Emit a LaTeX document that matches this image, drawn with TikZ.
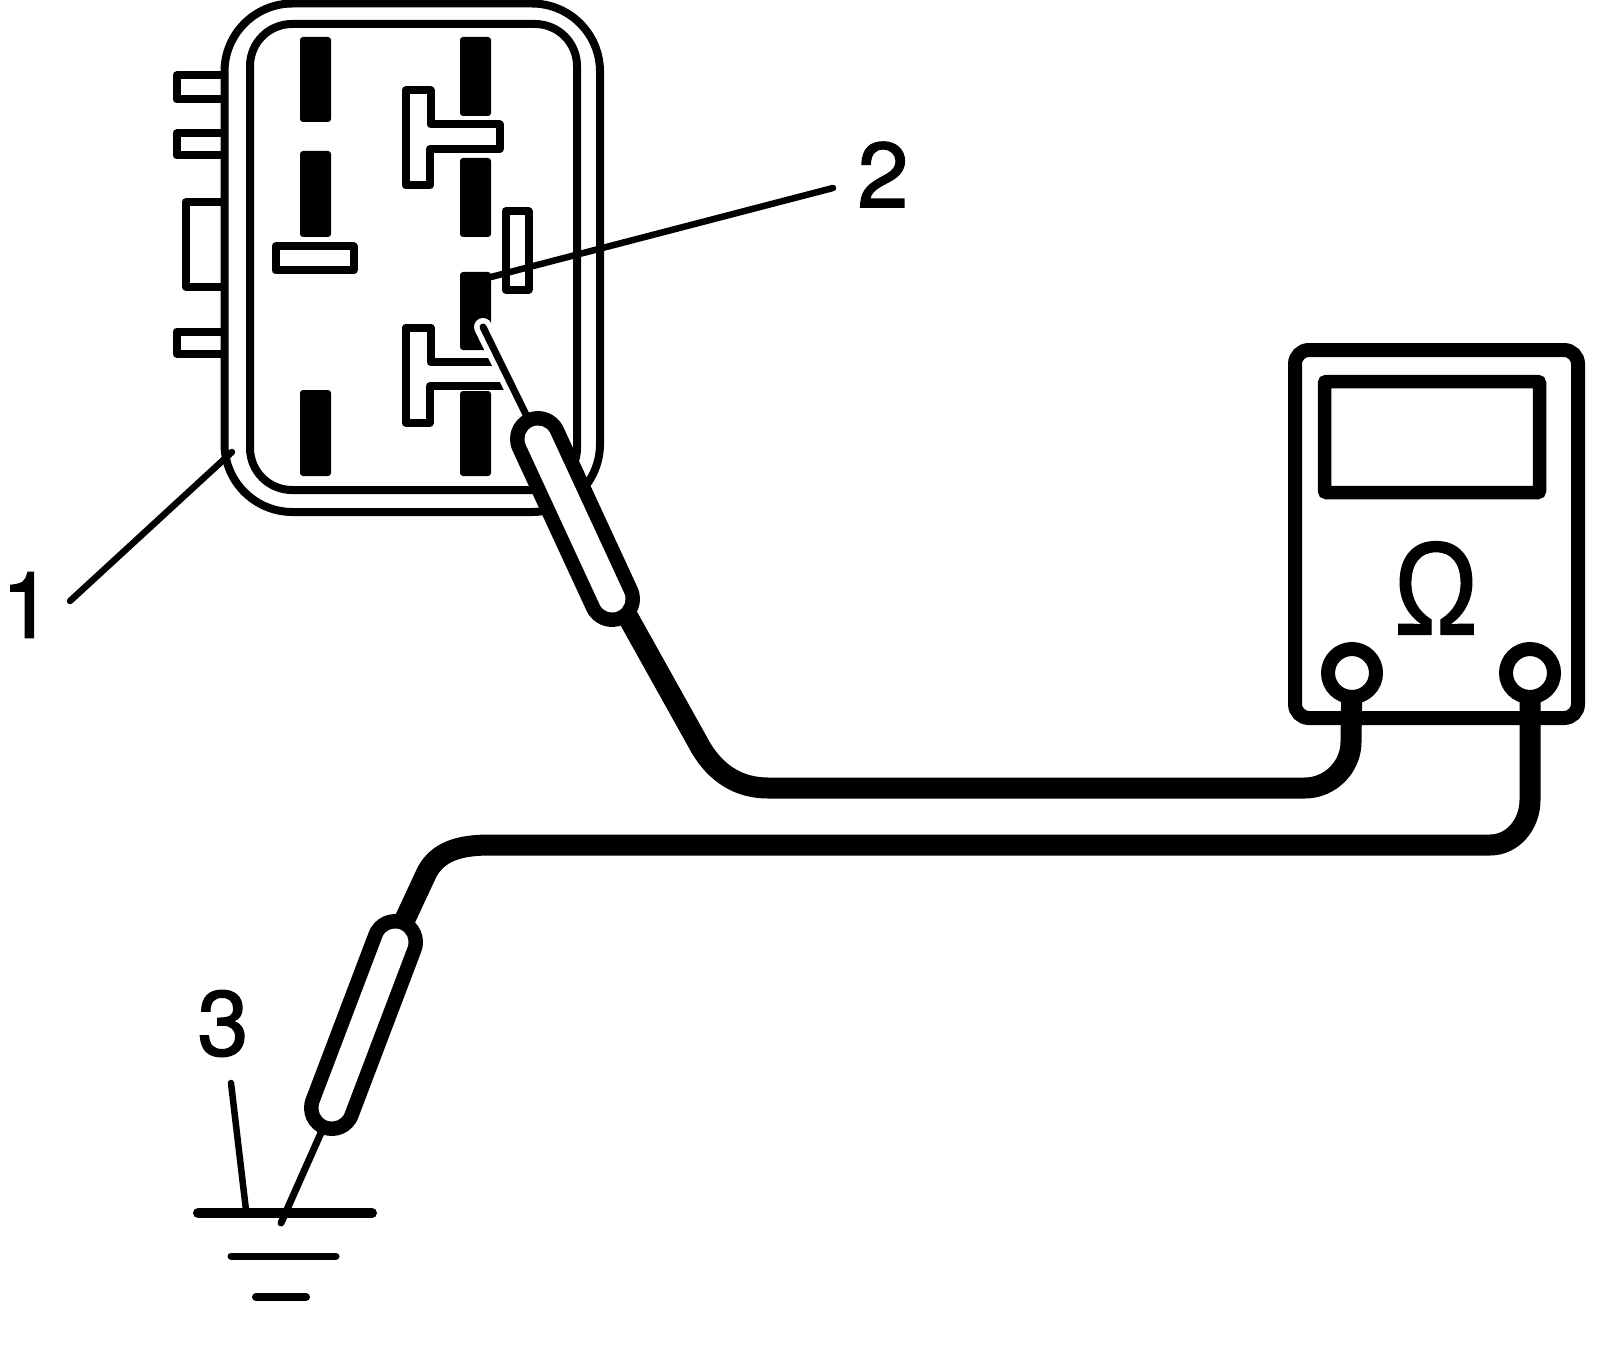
\documentclass[tikz,border=0pt]{standalone}
\usepackage{fontspec}
\usepackage{graphicx}
\setmainfont{TeX Gyre Heros}
\newfontfamily\numfont[FakeBold=1.5]{TeX Gyre Heros}
\newfontfamily\ohmfont[FakeBold=1]{Liberation Sans}
\tikzset{
  part/.style={draw=black,line width=8pt,line join=round,fill=white},
  openpart/.style={draw=black,line width=8pt,line join=round},
  blade/.style={fill=black,rounded corners=3pt},
  leader/.style={draw=black,line width=6.5pt,line cap=round},
  wire/.style={draw=black,line width=21pt,line join=round},
  numlabel/.style={inner sep=0pt,font=\numfont\fontsize{92}{92}\selectfont},
  pin/.style={draw=black,line width=7pt,line cap=round},
  terminal/.style={draw=black,line width=14pt,fill=white},
}
\begin{document}
\begin{tikzpicture}[x=1pt,y=-1pt]
\useasboundingbox (0,0) rectangle (1600,1356);
\fill[white] (0,0) rectangle (1600,1356);
% side tabs
\draw[part] (224,75.5) -- (176.5,75.5) -- (176.5,99.5) -- (224,99.5);
\draw[part] (224,133.5) -- (176.5,133.5) -- (176.5,155.5) -- (224,155.5);
\draw[part] (224,202.5) -- (185.5,202.5) -- (185.5,286.5) -- (224,286.5);
\draw[part] (224,331.5) -- (176.5,331.5) -- (176.5,353.5) -- (224,353.5);
% housing
\draw[part,rounded corners=68pt] (224.5,3.5) rectangle (600,512);
\draw[part,rounded corners=42pt] (250,24) rectangle (577,490);
% blades
\fill[blade] (300,37) rectangle (331,122);
\fill[blade] (300,151) rectangle (331,237);
\fill[blade] (300,390) rectangle (331,476);
\fill[blade] (460,37) rectangle (491,116);
\fill[blade] (460,158) rectangle (491,237);
\fill[blade] (460,272) rectangle (491,350);
\fill[blade] (460,391) rectangle (491,476);
% small rectangles
\draw[part,fill=none] (275.5,246.5) rectangle (353.5,270.5);
\draw[part,fill=none] (505.5,211.5) rectangle (528.5,289.5);
% T shapes
\draw[part,fill=none] (405.5,90.5) -- (430.5,90.5) -- (430.5,124.5) -- (499.5,124.5) -- (499.5,149) -- (430,149) -- (430,185.5) -- (405.5,185.5) -- cycle;
\draw[openpart] (496,362) -- (430.5,362) -- (430.5,327.5) -- (405.5,327.5) -- (405.5,422.5) -- (430,422.5) -- (430,386) -- (507,386);
% leaders
\node[numlabel] (n1) at (27,605) {1};
\node[numlabel] (n2) at (883,174.5) {2};
\node[numlabel] (n3) at (223,1023.5) {3};
\coordinate (l1a) at (70,601);
\coordinate (l1b) at (232,452);
\coordinate (l2a) at (833,188);
\coordinate (l2b) at (491,277);
\coordinate (l3a) at (231,1083);
\coordinate (l3b) at (246,1210);
\draw[leader] (l1a) -- (l1b);
\draw[leader] (l2a) -- (l2b);
\draw[leader] (l3a) -- (l3b);
% meter
\draw[draw=black,line width=14pt,rounded corners=14pt] (1295,350) rectangle (1578,718);
\draw[draw=black,line width=13.5pt,rounded corners=2pt] (1324.5,381.5) rectangle (1539.5,492.5);
\node[inner sep=0pt,font=\ohmfont\fontsize{133}{133}\selectfont] (ohm) at (1436,588) {\scalebox{0.85}[1]{Ω}};
% wires
\coordinate (t1) at (1352,673);
\coordinate (t2) at (1530,673);
\coordinate (h1a) at (538,439);
\coordinate (h1b) at (612,599);
\coordinate (h1w) at (619,601);
\coordinate (h2a) at (395,942);
\coordinate (h2b) at (332,1108);
\coordinate (h2w) at (400,930);
\coordinate (tip1) at (483,327);
\coordinate (tip2) at (281,1223);
\draw[wire] (h1w) -- (701,748) .. controls (716,773) and (738,788) .. (768,788) -- (1305,788) .. controls (1330,788) and (1351,767) .. (1351,742) -- (t1);
\draw[wire] (h2w) -- (427,872) .. controls (438,852) and (458,845) .. (490,845) -- (1490,845) .. controls (1513,845) and (1530,824) .. (1530,800) -- (t2);
\draw[terminal] (t1) circle[radius=24pt];
\draw[terminal] (t2) circle[radius=24pt];
% probe 1
\draw[white,line width=18pt,line cap=round] (tip1) -- (h1a);
\draw[pin] (tip1) -- (h1a);
\draw[black,line width=56pt,line cap=round] (h1a) -- (h1b);
\draw[white,line width=27pt,line cap=round] (h1a) -- (h1b);
% ground
\draw[black,line width=10pt,line cap=round] (198,1213) coordinate (g1a) -- (372,1213) coordinate (g1b);
\draw[black,line width=7pt,line cap=round] (231,1256) coordinate (g2a) -- (336,1256) coordinate (g2b);
\draw[black,line width=8pt,line cap=round] (256,1297) coordinate (g3a) -- (306,1297) coordinate (g3b);
% probe 2
\draw[pin] (tip2) -- (h2b);
\draw[black,line width=56pt,line cap=round] (h2a) -- (h2b);
\draw[white,line width=27pt,line cap=round] (h2a) -- (h2b);
\end{tikzpicture}
\end{document}
